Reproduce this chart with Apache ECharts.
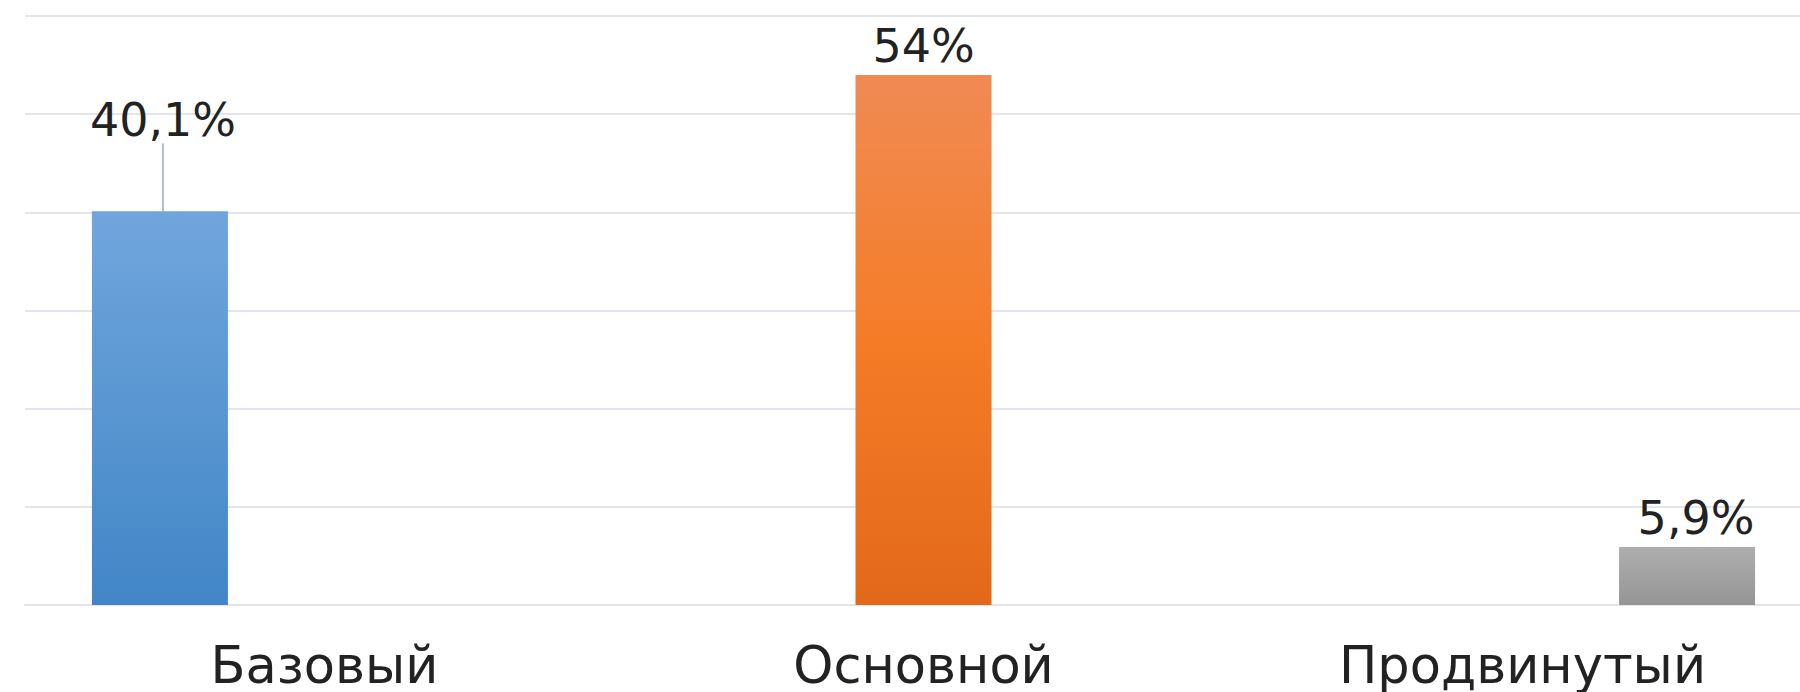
<!DOCTYPE html>
<html lang="ru">
<head>
    <meta charset="UTF-8">
    <title>Уровни</title>
    <script type="text/javascript" src="https://cdn.jsdelivr.net/npm/echarts@6/dist/echarts.min.js"></script>
    <style>
        html, body {margin: 0; padding: 0; background: #fff;}
        #chart {width: 1800px; height: 692px;}
    </style>
</head>
<body>
<div id="chart"></div>
<script>
    // данные
    var categories = ['Базовый', 'Основной', 'Продвинутый'];
    var basicValues = [40.1, null, null];
    var mainValues = [null, 54, null];
    var advancedValues = [null, null, 5.9];
    var yTicks = [0, 10, 20, 30, 40, 50, 60];

    var FONT = '"DejaVu Sans", sans-serif';

    function grad(top, mid, bottom) {
        var stops = [{offset: 0, color: top}];
        if (mid) stops.push({offset: 0.5, color: mid});
        stops.push({offset: 1, color: bottom});
        return new echarts.graphic.LinearGradient(0, 0, 0, 1, stops);
    }

    function pct(p) {
        return String(p.value).replace('.', ',') + '%';
    }

    var labelStyle = {
        show: true,
        position: 'top',
        distance: 6,
        fontFamily: FONT,
        fontSize: 46,
        color: '#222',
        formatter: pct
    };

    var chart = echarts.init(document.getElementById('chart'), null, {renderer: 'svg'});
    chart.setOption({
        animation: false,
        // сетка шире окна: справа часть обрезана, как в оригинале
        grid: {left: 25, width: 1797, top: 16, bottom: 87, outerBoundsMode: 'none'},
        xAxis: {
            type: 'category',
            data: categories,
            axisTick: {show: false},
            axisLine: {lineStyle: {color: '#E2E5EC', width: 2}},
            axisLabel: {
                margin: 35,
                fontFamily: FONT,
                fontSize: 51,
                color: '#222'
            }
        },
        yAxis: {
            type: 'value',
            min: yTicks[0],
            max: yTicks[yTicks.length - 1],
            interval: 10,
            axisLabel: {show: false},
            axisLine: {show: false},
            axisTick: {show: false},
            splitLine: {lineStyle: {color: '#E2E5EC', width: 2}}
        },
        series: [
            {
                name: 'Базовый',
                type: 'bar',
                data: basicValues,
                barWidth: 136,
                barGap: '21%',
                itemStyle: {color: grad('#70A6DC', null, '#4286C7')},
                label: labelStyle,
                labelLayout: {dx: 3, dy: -62},
                labelLine: {show: true, lineStyle: {color: '#B4BCCB', width: 2}}
            },
            {
                name: 'Основной',
                type: 'bar',
                data: mainValues,
                barWidth: 136,
                barGap: '21%',
                itemStyle: {color: grad('#F08B54', '#F47C27', '#E3691A')},
                label: labelStyle
            },
            {
                name: 'Продвинутый',
                type: 'bar',
                data: advancedValues,
                barWidth: 136,
                barGap: '21%',
                itemStyle: {color: grad('#AEAEAE', null, '#959595')},
                label: labelStyle,
                labelLayout: {dx: 9}
            }
        ]
    });
</script>
</body>
</html>
